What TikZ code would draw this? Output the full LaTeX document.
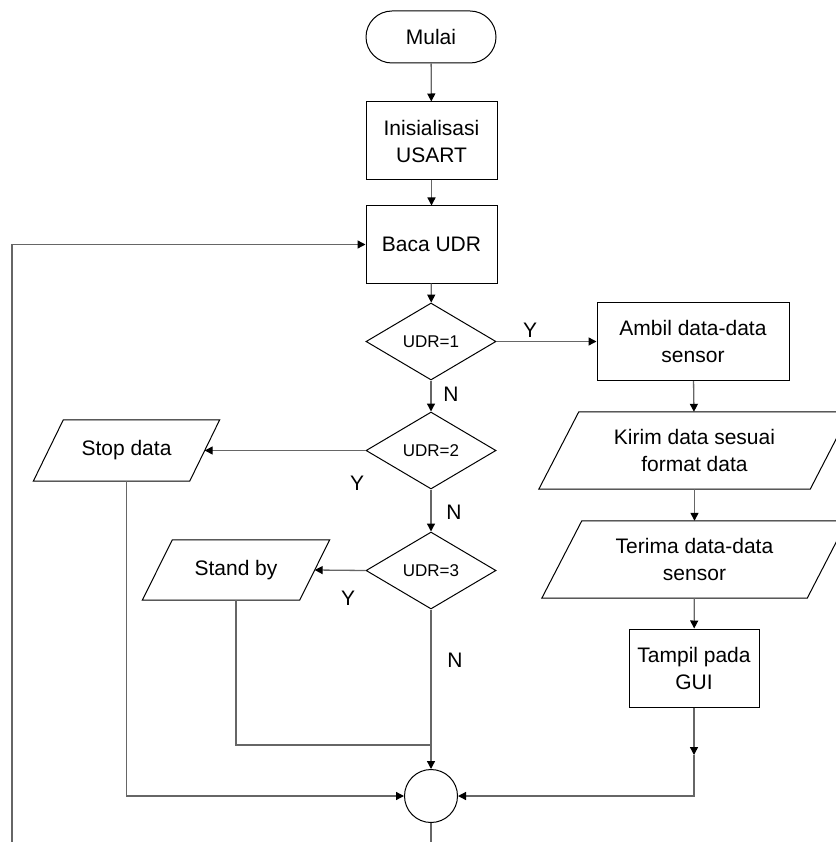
\documentclass[tikz,border=0pt]{standalone}
\usepackage{fontspec}
\setmainfont{Liberation Sans}
\usetikzlibrary{shapes.geometric,arrows.meta,calc}
\begin{document}
\begin{tikzpicture}[x=1pt,y=-1pt,
  every node/.style={inner sep=0pt, font=\fontsize{21}{27}\selectfont, align=center},
  shp/.style={draw=black, line width=1pt},
  procbox/.style={shp, rectangle, minimum width=#1, minimum height=78pt},
  termbox/.style={shp, rectangle, rounded corners=26pt, minimum width=130pt, minimum height=52pt},
  decbox/.style={shp, diamond, minimum width=130pt, minimum height=77pt, font=\fontsize{17}{20}\selectfont},
  iohold/.style={rectangle, minimum width=#1},
  lbl/.style={font=\fontsize{21}{24}\selectfont},
  wire/.style={draw=black!60, line width=1.3pt},
  conn/.style={wire, -{Triangle[length=8pt,width=8pt,color=black]}}
]
\useasboundingbox (0,0) rectangle (835,842);

% nodes
\node[termbox] (mulai) at (431,37) {Mulai};
\node[procbox=131pt] (inis) at (431.5,141) {Inisialisasi\\USART};
\node[procbox=131pt, minimum height=77pt] (baca) at (431.5,244.5) {Baca UDR};
\node[decbox] (d1) at (431,341.5) {UDR=1};
\node[decbox] (d2) at (431,450.5) {UDR=2};
\node[decbox] (d3) at (431,570.5) {UDR=3};
\node[procbox=192pt] (ambil) at (693,341.5) {Ambil data-data\\sensor};
\node[iohold=271pt, minimum height=77pt] (kirim) at (694.5,450.5) {Kirim data sesuai\\format data};
\node[iohold=265pt, minimum height=77pt] (terima) at (694.5,559.5) {Terima data-data\\sensor};
\node[procbox=130pt] (tampil) at (694,668) {Tampil pada\\GUI};
\node[iohold=156pt, minimum height=61pt] (stop) at (126.5,450.5) {Stop data};
\node[iohold=157pt, minimum height=60pt] (standby) at (236,570) {Stand by};
\node[shp, circle, minimum size=53pt] (merge) at (431,796) {};

% parallelogram outlines
\draw[shp] ($(kirim.north west)+(20,0)$) -- ($(kirim.north east)+(20,0)$) -- ($(kirim.south east)-(20,0)$) -- ($(kirim.south west)-(20,0)$) -- cycle;
\draw[shp] ($(terima.north west)+(20,0)$) -- ($(terima.north east)+(20,0)$) -- ($(terima.south east)-(20,0)$) -- ($(terima.south west)-(20,0)$) -- cycle;
\draw[shp] ($(stop.north west)+(15,0)$) -- ($(stop.north east)+(15,0)$) -- ($(stop.south east)-(15,0)$) -- ($(stop.south west)-(15,0)$) -- cycle;
\draw[shp] ($(standby.north west)+(15,0)$) -- ($(standby.north east)+(15,0)$) -- ($(standby.south east)-(15,0)$) -- ($(standby.south west)-(15,0)$) -- cycle;

% labels
\node[lbl] (y1) at (530,330) {Y};
\node[lbl] (n1) at (451,394) {N};
\node[lbl] (y2) at (357,483) {Y};
\node[lbl] (n2) at (454,512) {N};
\node[lbl] (y3) at (348,598) {Y};
\node[lbl] (n3) at (455,660) {N};

% coordinates
\coordinate (loopbot) at (12,842);
\coordinate (endbot) at (431,842);
\coordinate (join) at (431,745);
\coordinate (mid) at (694,755);

% connectors
\draw[conn] (mulai) -- (inis);
\draw[conn] (inis) -- (baca);
\draw[conn] (baca) -- (d1);
\draw[conn] (d1.east) -- (ambil.west);
\draw[conn] (d1.south) -- (d2.north);
\draw[conn] (d2.west) -- (stop.east);
\draw[conn] (d2.south) -- (d3.north);
\draw[conn] (d3.west) -- (standby.east);
\draw[conn] (ambil) -- (kirim);
\draw[conn] (kirim) -- (terima);
\draw[conn] (terima) -- (tampil);
\draw[conn] (tampil.south) -- (mid);
\draw[conn] (mid) |- (merge.east);
\draw[conn] (stop.south) |- (merge.west);
\draw[wire] (standby.south) |- (join);
\draw[conn] (d3.south) -- (merge.north);
\draw[wire] (merge.south) -- (endbot);
\draw[conn] (loopbot) |- (baca.west);
\end{tikzpicture}
\end{document}
